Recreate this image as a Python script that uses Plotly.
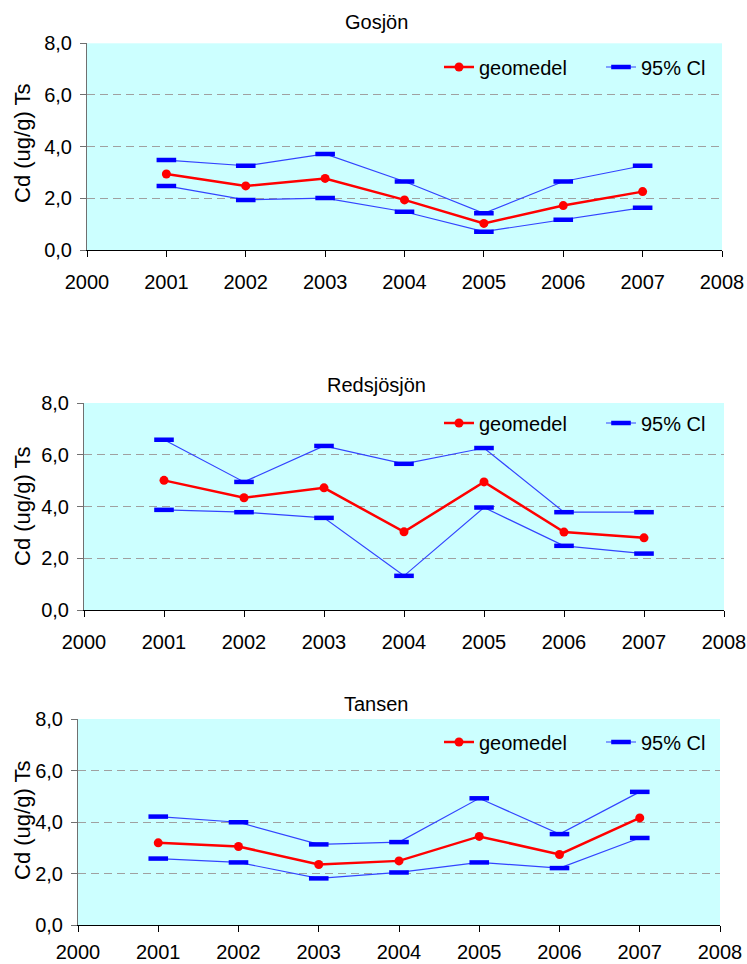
import plotly.graph_objects as go

years = [2001, 2002, 2003, 2004, 2005, 2006, 2007]
titles = ["Gosjön", "Redsjösjön", "Tansen"]

gos_geo = [2.94, 2.48, 2.77, 1.94, 1.03, 1.72, 2.26]
gos_hi = [3.48, 3.26, 3.72, 2.65, 1.42, 2.65, 3.26]
gos_lo = [2.48, 1.94, 2.01, 1.48, 0.71, 1.17, 1.64]

red_geo = [5.01, 4.34, 4.72, 3.02, 4.95, 3.01, 2.79]
red_hi = [6.58, 4.95, 6.34, 5.65, 6.26, 3.78, 3.78]
red_lo = [3.87, 3.78, 3.56, 1.32, 3.96, 2.48, 2.18]

tan_geo = [3.19, 3.05, 2.35, 2.49, 3.44, 2.74, 4.16]
tan_hi = [4.21, 3.99, 3.13, 3.22, 4.92, 3.53, 5.17]
tan_lo = [2.58, 2.43, 1.81, 2.04, 2.43, 2.21, 3.38]

x_ticks = [2000, 2001, 2002, 2003, 2004, 2005, 2006, 2007, 2008]
y_ticks = [0, 2, 4, 6, 8]

W, H = 747, 964
FONT = "Liberation Sans, Arial, sans-serif"

# pixel boxes: (left, right, top, bottom)
boxes = [(87, 722, 43.3, 250), (84, 724, 403, 610), (78, 720, 719, 925)]
legend_y = [67, 423, 742]
title_y = [22, 385, 704]
ytitle_y = [144, 507, 821]
x_standoff = [8, 8, 3]

series = [(gos_geo, gos_hi, gos_lo), (red_geo, red_hi, red_lo), (tan_geo, tan_hi, tan_lo)]

fig = go.Figure()
layout = dict(
    width=W, height=H, margin=dict(l=0, r=0, t=0, b=0, autoexpand=False),
    paper_bgcolor="white", plot_bgcolor="#CCFFFF",
    separators=", ", showlegend=True,
    font=dict(family=FONT, color="black"),
    annotations=[],
)

for i, (geo, hi, lo) in enumerate(series):
    k = "" if i == 0 else str(i + 1)
    leg = "legend" if i == 0 else f"legend{i+1}"
    xa, ya = "x" + k, "y" + k
    fig.add_trace(go.Scatter(
        x=years, y=geo, mode="lines+markers", name="geomedel",
        line=dict(color="#FF0000", width=2.5),
        marker=dict(symbol="circle", size=9, color="#FF0000"),
        xaxis=xa, yaxis=ya, legend=leg, legendgroup=f"g{i}",
    ))
    fig.add_trace(go.Scatter(
        x=years, y=hi, mode="lines+markers", name="95% Cl",
        line=dict(color="#3344FF", width=1.2),
        marker=dict(symbol="line-ew", size=14, color="#0000FF",
                    line=dict(color="#0000FF", width=4.5)),
        xaxis=xa, yaxis=ya, legend=leg, legendgroup=f"c{i}",
    ))
    fig.add_trace(go.Scatter(
        x=years, y=lo, mode="lines+markers", name="95% Cl",
        line=dict(color="#3344FF", width=1.2),
        marker=dict(symbol="line-ew", size=14, color="#0000FF",
                    line=dict(color="#0000FF", width=4.5)),
        xaxis=xa, yaxis=ya, legend=leg, legendgroup=f"c{i}", showlegend=False,
    ))
    l, r, t, b = boxes[i]
    layout["xaxis" + k] = dict(
        domain=[l / W, r / W], anchor=ya, range=[2000, 2008],
        tickvals=x_ticks, ticks="outside", ticklen=6, tickcolor="#000000",
        showline=True, linecolor="#000000", linewidth=1,
        showgrid=False, zeroline=False, automargin=False,
        tickfont=dict(size=20, family=FONT, color="black"),
        ticklabelstandoff=x_standoff[i],
    )
    layout["yaxis" + k] = dict(
        domain=[1 - b / H, 1 - t / H], anchor=xa, range=[0, 8],
        tickvals=y_ticks, tickformat=".1f", ticks="outside", ticklen=6,
        tickcolor="#707070", automargin=False,
        showline=True, linecolor="#707070", linewidth=1,
        showgrid=True, gridcolor="#A0A0A0", griddash="8px,5px", gridwidth=1,
        zeroline=False,
        tickfont=dict(size=20, family=FONT, color="black"),
        ticklabelstandoff=4,
    )
    layout[leg] = dict(
        x=439 / W, y=1 - legend_y[i] / H, xanchor="left", yanchor="middle",
        orientation="h", bgcolor="rgba(0,0,0,0)",
        font=dict(size=20, family=FONT, color="black"),
        entrywidth=117, entrywidthmode="pixels",
    )
    layout["annotations"].append(dict(
        text=titles[i], x=377 / W, y=1 - title_y[i] / H, xref="paper", yref="paper",
        showarrow=False, xanchor="center", yanchor="middle",
        font=dict(size=20, family=FONT, color="black"),
    ))
    layout["annotations"].append(dict(
        text="Cd (ug/g) Ts", x=22 / W, y=1 - ytitle_y[i] / H, xref="paper", yref="paper",
        showarrow=False, xanchor="center", yanchor="middle", textangle=-90,
        font=dict(size=22, family=FONT, color="black"),
    ))

fig.update_layout(**layout)
fig.write_html("out.html")
